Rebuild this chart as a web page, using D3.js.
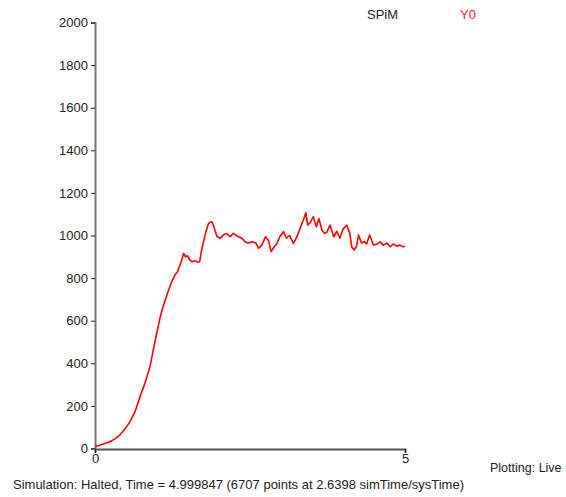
<!DOCTYPE html>
<html>
<head>
<meta charset="utf-8">
<script src="https://cdn.jsdelivr.net/npm/d3@7"></script>
<style>
  body { margin: 0; background: #fff; }
  svg text { font-family: "Liberation Sans", Arial, sans-serif; font-size: 13px; fill: #222; }
</style>
</head>
<body>
<div id="chart"></div>
<script>
// values (time, Y0)
var times = [0, 0.12, 0.24, 0.32, 0.40, 0.48, 0.565, 0.645, 0.726, 0.806, 0.887, 0.94, 0.995, 1.048, 1.097, 1.177,
    1.237, 1.29, 1.33, 1.38, 1.43, 1.46, 1.49, 1.53, 1.57, 1.61, 1.66, 1.69, 1.72, 1.75, 1.79, 1.83, 1.88, 1.91, 1.94, 1.97,
    2.02, 2.07, 2.12, 2.18, 2.23, 2.29, 2.37, 2.42, 2.47, 2.53, 2.59, 2.64, 2.69, 2.75, 2.80, 2.84, 2.89, 2.93, 2.98,
    3.04, 3.09, 3.14, 3.20, 3.25, 3.31, 3.36, 3.40, 3.43, 3.47, 3.52, 3.57, 3.61, 3.66, 3.70, 3.74, 3.79, 3.85, 3.90,
    3.95, 4.00, 4.06, 4.11, 4.14, 4.18, 4.22, 4.25, 4.30, 4.34, 4.38, 4.43, 4.49, 4.55, 4.60, 4.65, 4.71, 4.76, 4.81,
    4.87, 4.92, 4.97, 5.0];
var y0 = [8, 20, 32, 45, 63, 90, 126, 173, 243, 307, 384, 462, 542, 613, 666, 736,
    783, 815, 830, 869, 916, 900, 905, 885, 877, 882, 874, 880, 932, 971, 1018, 1057, 1065, 1049, 1018, 994,
    987, 1002, 1010, 994, 1010, 998, 987, 971, 963, 971, 966, 940, 955, 994, 975, 924, 947, 960, 994,
    1018, 987, 1000, 963, 990, 1034, 1073, 1107, 1049, 1060, 1088, 1041, 1080, 1026, 1010, 1015, 1049, 994, 1020,
    987, 1030, 1049, 1010, 947, 932, 950, 1002, 965, 971, 960, 1002, 955, 960, 970, 955, 965, 947, 960,
    950, 955, 947, 950];
var yTicks = [0, 200, 400, 600, 800, 1000, 1200, 1400, 1600, 1800, 2000];
var xTicks = [0, 5];
var statusText = "Simulation: Halted, Time = 4.999847 (6707 points at 2.6398 simTime/sysTime)";

var width = 566, height = 497;

var svg = d3.select("#chart").append("svg")
    .attr("width", width)
    .attr("height", height);

var x = d3.scaleLinear().domain([0, 5]).range([95, 405]);
var y = d3.scaleLinear().domain([0, 2000]).range([448.5, 22.5]);

// y axis
var yAxis = svg.append("g")
    .attr("transform", "translate(95,0)")
    .call(d3.axisLeft(y).tickValues(yTicks).tickSize(4).tickPadding(3).tickFormat(d3.format("d")));
yAxis.select(".domain").attr("stroke", "#777").attr("stroke-width", 2);
yAxis.selectAll(".tick line").attr("stroke", "#222");
yAxis.selectAll(".tick text").style("font-size", "13px").attr("fill", "#222");

// x axis
var xAxis = svg.append("g")
    .attr("transform", "translate(0,449)")
    .call(d3.axisBottom(x).tickValues(xTicks).tickSize(4).tickPadding(1).tickFormat(d3.format("d")));
xAxis.select(".domain").attr("stroke", "#555").attr("stroke-width", 2);
xAxis.selectAll(".tick line").attr("stroke", "#222");
xAxis.selectAll(".tick text").style("font-size", "13px").attr("fill", "#222");

var line = d3.line()
    .x(function (d, i) { return x(times[i]); })
    .y(function (d) { return y(d); });

svg.append("path")
    .datum(y0)
    .attr("d", line)
    .attr("fill", "none")
    .attr("stroke", "#ff0000")
    .attr("stroke-width", 1.6)
    .attr("stroke-linejoin", "round");

// legend
svg.append("text").attr("x", 367).attr("y", 19).text("SPiM");
svg.append("text").attr("x", 460).attr("y", 19).style("fill", "#ff2020").text("Y0");

// status lines
svg.append("text").attr("x", 13).attr("y", 489).text(statusText);
svg.append("text").attr("x", 490).attr("y", 472).style("font-size", "12.5px").text("Plotting: Live");
</script>
</body>
</html>
